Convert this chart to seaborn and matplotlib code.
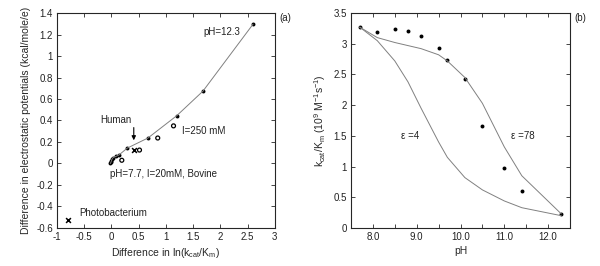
import numpy as np
import pandas as pd
import matplotlib
matplotlib.use("Agg")
import matplotlib.pyplot as plt
import seaborn as sns
from matplotlib.ticker import FormatStrFormatter, FuncFormatter, MultipleLocator

# panel (a): filled points with fitted curve, open circles (I=250 mM), crosses
fit_x = [-0.02, -0.01, 0.0, 0.01, 0.03, 0.08, 0.14, 0.29, 0.67, 1.2, 1.68, 2.6]
fit_y = [0.0, 0.01, 0.025, 0.04, 0.055, 0.065, 0.08, 0.143, 0.237, 0.445, 0.673, 1.296]
open_x = [0.19, 0.515, 0.85, 1.14]
open_y = [0.03, 0.125, 0.237, 0.35]
cross_x = [0.41, -0.8]
cross_y = [0.128, -0.53]

# panel (b): measured kcat/Km vs pH and the two model curves
ph = [7.7, 8.1, 8.5, 8.8, 9.1, 9.5, 9.7, 10.1, 10.5, 11.0, 11.4, 12.3]
kcat = [3.27, 3.19, 3.24, 3.21, 3.13, 2.93, 2.73, 2.42, 1.66, 0.97, 0.60, 0.23]
eps78 = [3.27, 3.1, 3.02, 2.97, 2.92, 2.82, 2.72, 2.45, 2.03, 1.32, 0.85, 0.23]
eps4 = [3.27, 3.05, 2.72, 2.38, 1.95, 1.40, 1.15, 0.82, 0.62, 0.44, 0.33, 0.2]

sns.set_style("ticks")
plt.rcParams["font.family"] = ["Liberation Sans", "DejaVu Sans"]
plt.rcParams["font.size"] = 7
plt.rcParams["mathtext.fontset"] = "custom"
plt.rcParams["mathtext.rm"] = "Liberation Sans"
plt.rcParams["mathtext.it"] = "Liberation Sans:italic"
plt.rcParams["text.color"] = "#222222"

fig = plt.figure(figsize=(6.0, 2.66), dpi=100)
ax1 = fig.add_axes([0.095, 0.143, 0.363, 0.808])
ax2 = fig.add_axes([0.585, 0.143, 0.365, 0.808])

line_col = "#808080"
gfmt = FuncFormatter(lambda v, p: "%g" % round(v, 2))

# ---- (a)
sns.lineplot(x=fit_x, y=fit_y, ax=ax1, color=line_col, linewidth=0.7, sort=False)
sns.scatterplot(x=fit_x, y=fit_y, ax=ax1, color="black", s=8, edgecolor="black", linewidth=0)
sns.scatterplot(x=open_x, y=open_y, ax=ax1, s=8, facecolor="none", edgecolor="black", linewidth=0.9)
sns.scatterplot(x=cross_x, y=cross_y, ax=ax1, marker="x", s=12, color="black", linewidth=1.1)

ax1.annotate("", xy=(0.41, 0.19), xytext=(0.41, 0.36),
             arrowprops=dict(arrowstyle="-|>", color="black", lw=0.8, mutation_scale=6))
ax1.text(0.09, 0.405, "Human", ha="center", va="center")
ax1.text(2.03, 1.22, "pH=12.3", ha="center", va="center")
ax1.text(1.29, 0.305, "I=250 mM", ha="left", va="center")
ax1.text(-0.03, -0.1, "pH=7.7, I=20mM, Bovine", ha="left", va="center")
ax1.text(-0.6, -0.464, "Photobacterium", ha="left", va="center")
ax1.text(1.02, 1.0, "(a)", transform=ax1.transAxes, ha="left", va="top")

ax1.set_xlim(-1, 3)
ax1.set_ylim(-0.6, 1.4)
ax1.xaxis.set_major_locator(MultipleLocator(0.5))
ax1.yaxis.set_major_locator(MultipleLocator(0.2))
ax1.xaxis.set_major_formatter(gfmt)
ax1.yaxis.set_major_formatter(gfmt)
ax1.set_xlabel(r"Difference in ln(k$_{\mathrm{cat}}$/K$_{\mathrm{m}}$)", labelpad=3)
ax1.set_ylabel("Difference in electrostatic potentials (kcal/mole/e)", labelpad=4)

# ---- (b)
sns.lineplot(x=ph, y=eps78, ax=ax2, color=line_col, linewidth=0.7)
sns.lineplot(x=ph, y=eps4, ax=ax2, color=line_col, linewidth=0.7)
sns.scatterplot(x=ph, y=kcat, ax=ax2, color="black", s=8, edgecolor="black", linewidth=0)
ax2.text(8.84, 1.5, "ε =4", ha="center", va="center")
ax2.text(11.43, 1.5, "ε =78", ha="center", va="center")
ax2.text(1.02, 1.0, "(b)", transform=ax2.transAxes, ha="left", va="top")

ax2.set_xlim(7.5, 12.5)
ax2.set_ylim(0, 3.5)
ax2.xaxis.set_major_locator(MultipleLocator(1.0))
ax2.xaxis.set_minor_locator(MultipleLocator(0.5))
ax2.xaxis.set_major_formatter(FormatStrFormatter("%.1f"))
ax2.yaxis.set_major_locator(MultipleLocator(0.5))
ax2.yaxis.set_major_formatter(gfmt)
ax2.set_xlabel("pH", labelpad=3)
ax2.set_ylabel(r"k$_{\mathrm{cat}}$/K$_{\mathrm{m}}$ (10$^{\mathrm{9}}$ M$^{\mathrm{-1}}$s$^{\mathrm{-1}}$)", labelpad=4)

for ax in (ax1, ax2):
    for sp in ax.spines.values():
        sp.set_visible(True)
        sp.set_linewidth(0.8)
    ax.tick_params(which="both", direction="in", top=True, right=True,
                   length=3, width=0.6, labelsize=7, pad=3, labelcolor="#222222")
    ax.xaxis.label.set_size(7.5)
    ax.yaxis.label.set_size(7.5)

fig.savefig("out.png", dpi=100)
